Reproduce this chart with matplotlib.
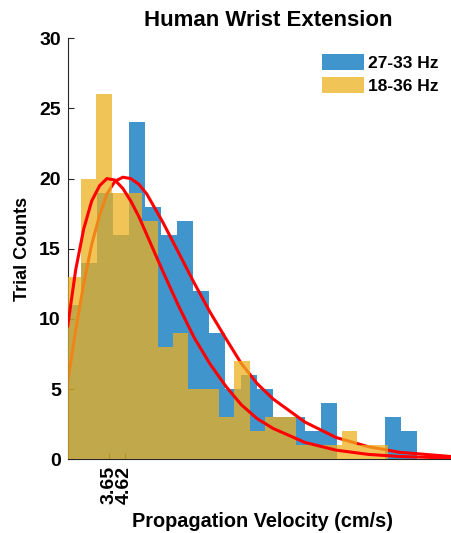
import matplotlib.pyplot as plt
from matplotlib.patches import Patch
import numpy as np

plt.rcParams["font.family"] = ["Liberation Sans", "DejaVu Sans"]
plt.rcParams["font.weight"] = "bold"
plt.rcParams["axes.titleweight"] = "bold"
plt.rcParams["axes.labelweight"] = "bold"

# histfit-style bins (cm/s): first edge and width of each series
blue_start, blue_width = 0.88, 1.0
yellow_start, yellow_width = 0.925, 0.96
blue_counts = [11, 14, 19, 16, 24, 18, 16, 17, 12, 9, 5, 6, 5, 3, 3, 2, 4, 0, 0, 0, 3, 2]
yellow_counts = [13, 20, 26, 19, 19, 17, 8, 9, 5, 5, 3, 7, 2, 3, 3, 1, 1, 1, 2, 1, 1]

# fitted curves
fit_x = [1.05, 1.55, 2.05, 2.55, 3.05, 3.5, 4.0, 4.5, 5.0, 5.5, 6.0, 7.0, 8.0, 8.95, 9.95,
         10.95, 11.9, 12.9, 13.9, 15.9, 17.85, 19.85, 21.8, 26.1]
blue_fit = [5.5, 9.2, 12.5, 15.3, 17.4, 18.9, 19.8, 20.1, 20.0, 19.6, 18.9, 16.9, 14.7, 12.6, 10.5,
            8.6, 6.85, 5.4, 4.3, 2.65, 1.55, 0.9, 0.5, 0.1]
yellow_fit = [9.5, 13.5, 16.4, 18.4, 19.5, 20.0, 19.9, 19.3, 18.4, 17.3, 16.0, 13.4, 10.9, 8.7, 6.8,
              5.2, 3.9, 2.9, 2.2, 1.2, 0.65, 0.35, 0.2, 0.05]

peak_ticks = [3.65, 4.62]
labels = ["27-33 Hz", "18-36 Hz"]
blue = "#0072BD"
yellow = "#EDB120"

blue_left = blue_start + blue_width * np.arange(len(blue_counts))
yellow_left = yellow_start + yellow_width * np.arange(len(yellow_counts))

fig = plt.figure(figsize=(4.51, 5.33), dpi=100)
# axes runs a little past the right edge of the picture (the original was cropped)
ax = fig.add_axes([0.1501, 0.1383, 0.8876, 0.7899])

ax.bar(blue_left, blue_counts, width=blue_width, align="edge", color=blue, alpha=0.75,
       linewidth=0, zorder=1)
ax.plot(fit_x, blue_fit, color="red", lw=2.2, zorder=2)
ax.bar(yellow_left, yellow_counts, width=yellow_width, align="edge", color=yellow, alpha=0.75,
       linewidth=0, zorder=3)
ax.plot(fit_x, yellow_fit, color="red", lw=2.2, zorder=4)

ax.set_xlim(1.05, 26.1)
ax.set_ylim(0, 30)
ax.set_yticks(range(0, 31, 5))
ax.set_xticks(peak_ticks)
ax.set_xticklabels([f"{v:.2f}" for v in peak_ticks], rotation=90)
ax.tick_params(direction="in", length=4, width=0.8, labelsize=14, color="#262626", pad=5)
for side in ["top", "right"]:
    ax.spines[side].set_visible(False)
for side in ["left", "bottom"]:
    ax.spines[side].set_color("#262626")
    ax.spines[side].set_linewidth(0.8)

ax.set_xlabel("Propagation Velocity (cm/s)", fontsize=14.3, labelpad=6)
ax.xaxis.set_label_coords(0.486, -0.125)
ax.set_ylabel("Trial Counts", fontsize=13, labelpad=6)
ax.set_title("Human Wrist Extension", fontsize=16, pad=8.5)

handles = [Patch(facecolor=blue, alpha=0.75, lw=0), Patch(facecolor=yellow, alpha=0.75, lw=0)]
fig.legend(handles, labels, loc="upper left", bbox_to_anchor=(0.713, 0.898), frameon=False,
           fontsize=12.5, handlelength=2.45, handleheight=1.0, handletextpad=0.22,
           labelspacing=0.35, borderpad=0, borderaxespad=0)

fig.savefig("out.png", dpi=100)
